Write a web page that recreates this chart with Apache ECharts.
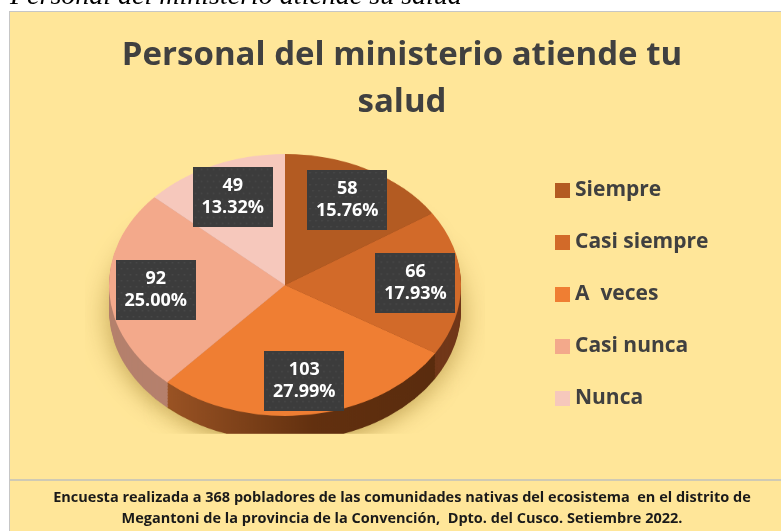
<!DOCTYPE html>
<html>
<head>
<meta charset="utf-8">
<script src="https://cdn.jsdelivr.net/npm/echarts@6/dist/echarts.min.js"></script>
<style>
  html, body { margin: 0; padding: 0; background: #fff; }
  #page { position: relative; width: 781px; height: 531px; overflow: hidden; }
  #frame { position: absolute; left: 9px; top: 11px; width: 790px; height: 530px;
           background: #FFE699; border-left: 1px solid #c6c6c6; border-top: 1px solid #c6c6c6; }
  #sep { position: absolute; left: 10px; top: 479px; width: 790px; height: 2px; background: #cfcab4; }
  #pie { position: absolute; left: 85px; top: 85px; width: 400px; height: 400px;
         transform: scaleY(0.744); transform-origin: 50% 50%; }
  #over { position: absolute; left: 0; top: 0; width: 781px; height: 531px; }
</style>
</head>
<body>
<div id="page">
  <div id="frame"></div>
  <div id="sep"></div>
  <div id="pie"></div>
  <div id="over"></div>
</div>
<script>
// datos de la encuesta
const categories = ['Siempre', 'Casi siempre', 'A  veces', 'Casi nunca', 'Nunca'];
const counts = [58, 66, 103, 92, 49];
const topColors = ['#B35B22', '#D26A29', '#EF7E33', '#F3A98B', '#F6C8BC'];
const sideColors = ['#74391a', '#72381a', '#7a3f17', '#b5806d', '#c69b8f'];

const squash = 0.744;   // elipse del pastel 3D
const pieCX = 285.5, pieCY = 285, pieR = 176;
const depth = 34;       // espesor (en px antes de aplastar)

// ---- pastel (se aplasta con CSS) ----
const pieChart = echarts.init(document.getElementById('pie'), null, { renderer: 'canvas' });
const pieSeries = [];
for (let d = depth; d > 0; d -= 2) {
  pieSeries.push({
    type: 'pie',
    silent: true,
    center: [200, 200 + d],
    radius: pieR,
    startAngle: 90,
    label: { show: false },
    labelLine: { show: false },
    itemStyle: d === depth
      ? { borderWidth: 0, shadowBlur: 28, shadowColor: 'rgba(120,85,0,0.45)', shadowOffsetY: 6 }
      : { borderWidth: 0 },
    data: categories.map((name, i) => ({
      name: name,
      value: counts[i],
      itemStyle: {
        color: i === 2
          ? { type: 'linear', x: 0, y: 0, x2: 1, y2: 0,
              colorStops: [{ offset: 0, color: '#9a5324' }, { offset: 0.55, color: '#62300f' }, { offset: 1, color: '#5a2c0e' }] }
          : sideColors[i]
      }
    }))
  });
}
pieSeries.push({
  type: 'pie',
  silent: true,
  center: [200, 200],
  radius: pieR,
  startAngle: 90,
  label: { show: false },
  labelLine: { show: false },
  itemStyle: { borderWidth: 0 },
  data: categories.map((name, i) => ({ name: name, value: counts[i], itemStyle: { color: topColors[i] } }))
});
pieChart.setOption({ animation: false, series: pieSeries });

// ---- fondo punteado de las etiquetas ----
function makeTile() {
  const c = document.createElement('canvas');
  c.width = 80; c.height = 60;
  const g = c.getContext('2d');
  g.fillStyle = '#3c3c3c';
  g.fillRect(0, 0, 80, 60);
  g.fillStyle = '#4a4a4a';
  for (let y = 2; y < 60; y += 6) {
    for (let x = (Math.floor(y / 6) % 2 ? 5 : 2); x < 80; x += 6) {
      g.fillRect(x, y, 1.5, 1.5);
    }
  }
  return c;
}
const tile = makeTile();

// ---- capa superior: titulo, leyenda, etiquetas, pie de pagina ----
const chart = echarts.init(document.getElementById('over'));
chart.setOption({
  animation: false,
  legend: {
    orient: 'vertical',
    left: 550,
    top: 175,
    itemWidth: 15,
    itemHeight: 15,
    itemGap: 31,
    icon: 'rect',
    selectedMode: false,
    textStyle: { fontFamily: 'Open Sans', fontSize: 21, fontWeight: 'bold', color: '#404040' },
    data: categories.map((name, i) => ({ name: name, itemStyle: { color: topColors[i] } }))
  },
  graphic: [
    {
      type: 'text', x: 10, y: 11,
      style: { text: 'Personal del ministerio atiende su salud', fill: '#000',
               font: 'italic 28px "Liberation Serif"', verticalAlign: 'bottom' }
    },
    {
      type: 'text', x: 402, y: 79,
      style: { text: 'Personal del ministerio atiende tu\nsalud', fill: '#404040',
               font: 'bold 33px "Open Sans"', lineHeight: 47,
               align: 'center', verticalAlign: 'middle' }
    },
    {
      type: 'text', x: 402, y: 508,
      style: { text: 'Encuesta realizada a 368 pobladores de las comunidades nativas del ecosistema  en el distrito de\nMegantoni de la provincia de la Convención,  Dpto. del Cusco. Setiembre 2022.',
               fill: '#1a1a1a', font: 'bold 14.5px "Open Sans"', lineHeight: 21,
               align: 'center', verticalAlign: 'middle' }
    }
  ],
  series: [{
    type: 'pie',
    silent: true,
    center: [pieCX, pieCY],
    radius: [78, pieR],
    startAngle: 90,
    percentPrecision: 2,
    itemStyle: { color: 'rgba(0,0,0,0)', borderWidth: 0 },
    labelLine: { show: false },
    label: {
      show: true,
      position: 'inside',
      formatter: p => p.value + '\n' + p.percent.toFixed(2) + '%',
      color: '#fff',
      fontFamily: 'Open Sans',
      fontSize: 18,
      fontWeight: 'bold',
      lineHeight: 22,
      width: 80,
      align: 'center',
      padding: [8, 0],
      backgroundColor: { image: tile },
      shadowColor: 'rgba(0,0,0,0.45)',
      shadowBlur: 5,
      shadowOffsetX: 2,
      shadowOffsetY: 3
    },
    labelLayout: function (p) {
      const r = p.labelRect;
      const mx = r.x + r.width / 2;
      const my = r.y + r.height / 2;
      return { x: mx, y: pieCY + (my - pieCY) * squash, align: 'center', verticalAlign: 'middle' };
    },
    data: categories.map((name, i) => ({ name: name, value: counts[i] }))
  }]
});
</script>
</body>
</html>
